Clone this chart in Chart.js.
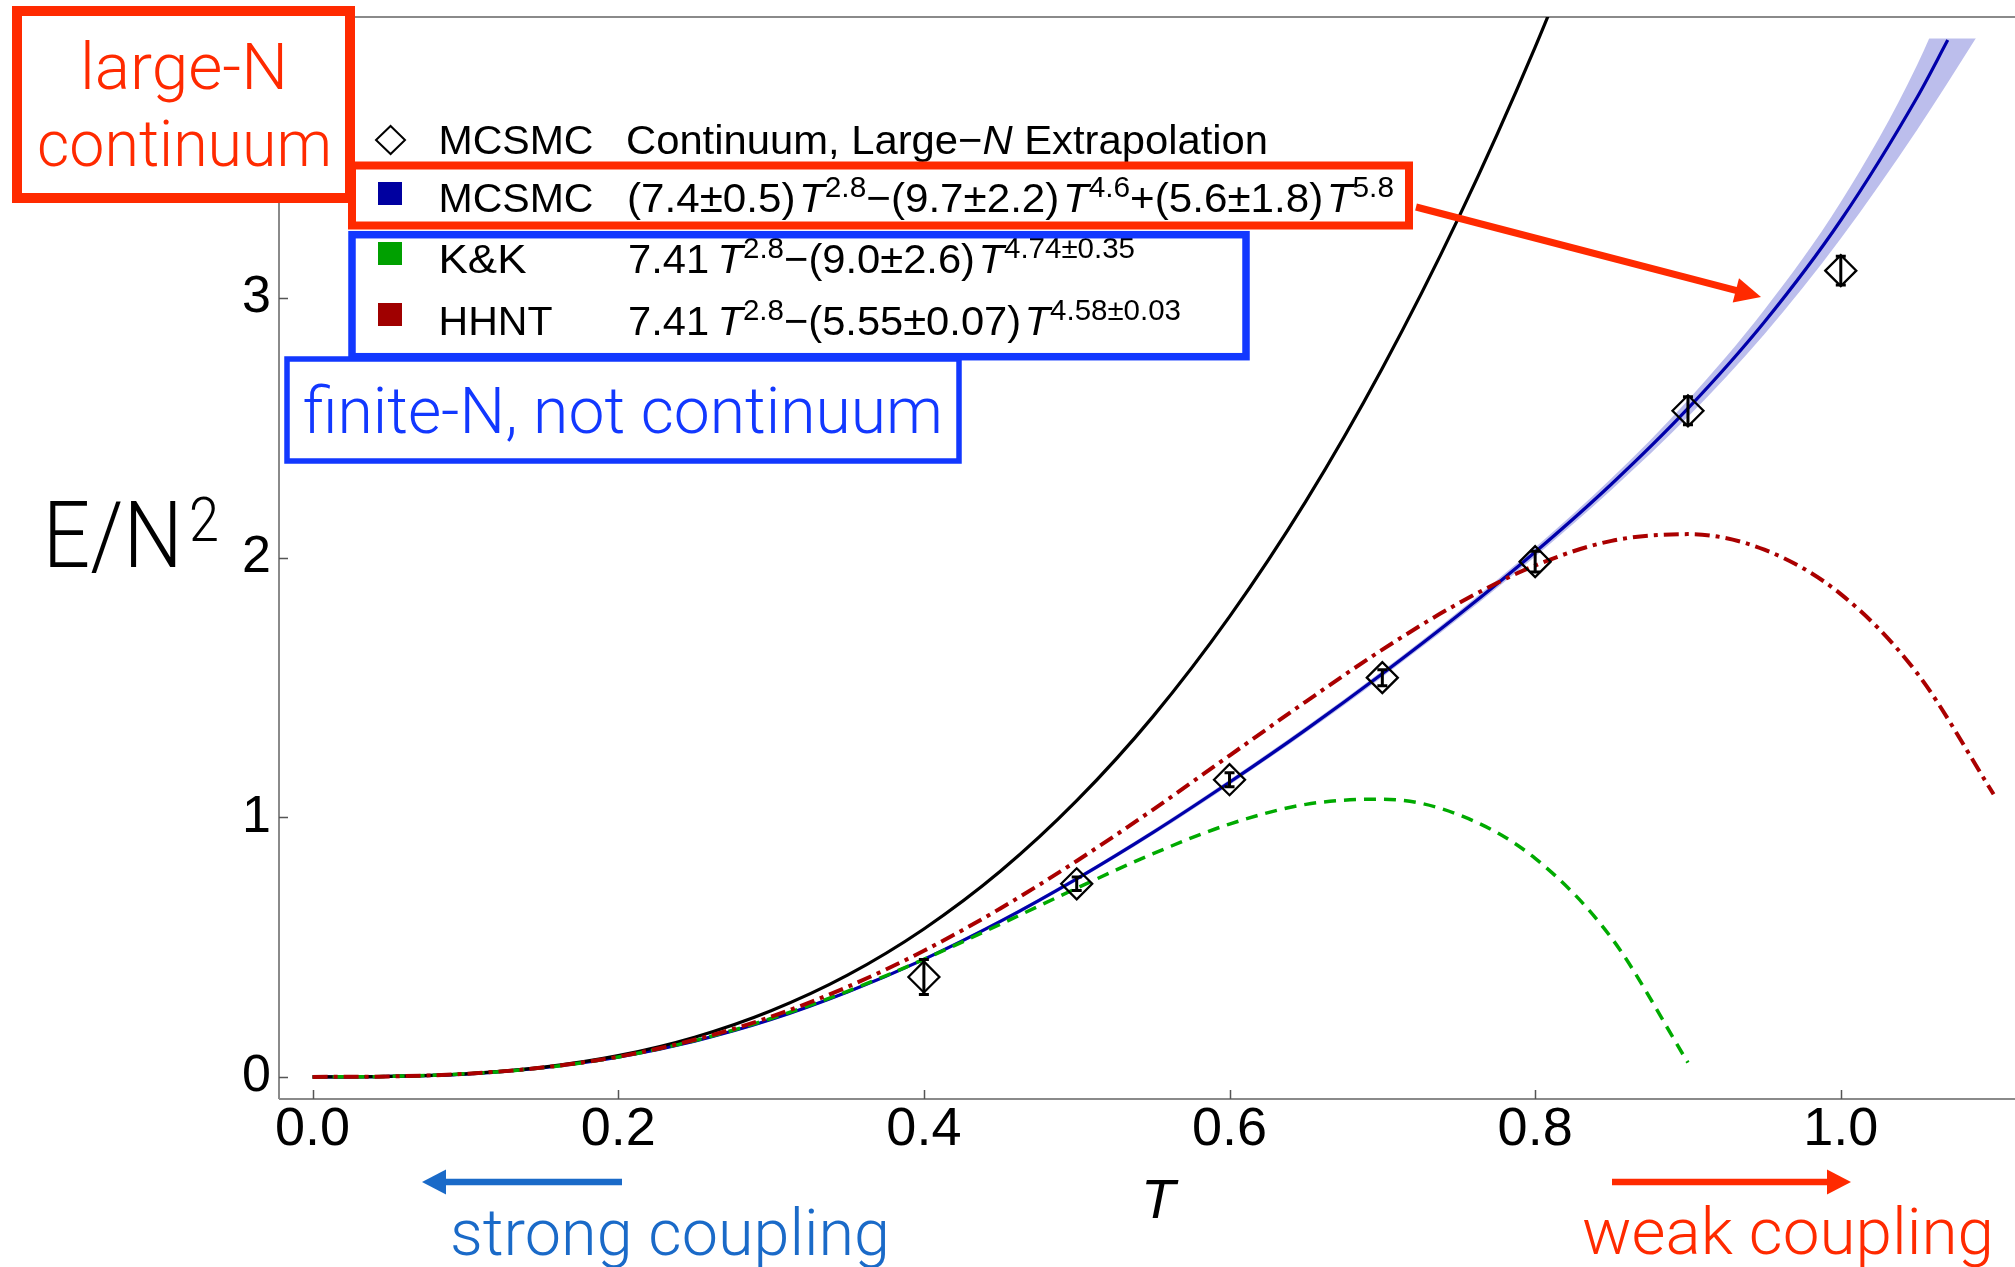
<!DOCTYPE html>
<html>
<head>
<meta charset="utf-8">
<title>E/N^2 vs T</title>
<script src="https://cdn.jsdelivr.net/npm/chart.js@4.4.1/dist/chart.umd.min.js"></script>
<style>
  html, body { margin: 0; padding: 0; background: #fff; }
  canvas { display: block; }
</style>
</head>
<body>
<canvas id="chart" width="2015" height="1267"></canvas>
<script>
const tGrid = [0, 0.05, 0.1, 0.15, 0.2, 0.25, 0.3, 0.35, 0.4, 0.45, 0.5, 0.55, 0.6, 0.65, 0.7, 0.75, 0.8, 0.85, 0.9, 0.95, 1.0, 1.05, 1.1];
const tFit = [0, 0.05, 0.1, 0.15, 0.2, 0.25, 0.3, 0.35, 0.4, 0.45, 0.5, 0.55, 0.6, 0.65, 0.7, 0.75, 0.8, 0.85, 0.9, 0.95, 1.0, 1.05, 1.07];

// black solid curve (runs off the top)
const blackCurve = [0, 0.002, 0.012, 0.037, 0.082, 0.153, 0.255, 0.392, 0.570, 0.792, 1.064, 1.389, 1.773, 2.218, 2.730, 3.311, 3.967, 4.701];
// MCSMC fit (blue) and its error band
const fitCurve = [0, 0.002, 0.011, 0.035, 0.076, 0.138, 0.221, 0.327, 0.453, 0.599, 0.763, 0.942, 1.135, 1.338, 1.553, 1.780, 2.022, 2.284, 2.575, 2.908, 3.300, 3.774, 3.994];
const bandUpper = [0, 0.003, 0.013, 0.038, 0.080, 0.143, 0.226, 0.333, 0.459, 0.606, 0.771, 0.951, 1.145, 1.349, 1.565, 1.794, 2.039, 2.306, 2.607, 2.955, 3.370, 3.899, 4.609];
const bandLower = [0, 0.001, 0.009, 0.032, 0.072, 0.133, 0.216, 0.321, 0.447, 0.592, 0.755, 0.933, 1.125, 1.327, 1.541, 1.766, 2.005, 2.262, 2.543, 2.861, 3.230, 3.649, 4.109];
// K&K (green dashed)
const kkCurve = [0, 0.002, 0.012, 0.035, 0.077, 0.140, 0.225, 0.330, 0.453, 0.588, 0.727, 0.860, 0.974, 1.050, 1.070, 1.010, 0.842, 0.535, 0.055];
// HHNT (red dot-dashed)
const hhntCurve = [0, 0.002, 0.012, 0.036, 0.078, 0.143, 0.232, 0.347, 0.486, 0.649, 0.832, 1.030, 1.238, 1.446, 1.646, 1.825, 1.970, 2.065, 2.091, 2.031, 1.860, 1.555, 1.089];

// MCSMC continuum points with error bars
const mcT = [0.4, 0.5, 0.6, 0.7, 0.8, 0.9, 1.0];
const mcE = [0.385, 0.744, 1.145, 1.538, 1.985, 2.566, 3.106];
const mcErr = [0.067, 0.026, 0.027, 0.031, 0.040, 0.054, 0.055];

const xTicks = [0, 0.2, 0.4, 0.6, 0.8, 1.0];
const yTicks = [0, 1, 2, 3];

const SANS = '"Liberation Sans", Arial, Helvetica, sans-serif';
const LIGHT = 'Roboto, "Liberation Sans", sans-serif';
const RED = '#ff2a00';
const BOXBLUE = '#1238ff';
const ARROWBLUE = '#1a6ac8';

function pts(xs, ys) {
    return ys.map((y, i) => ({ x: xs[i], y: y }));
}

// horizontally squeeze/stretch a text so it spans a given width
function fitText(ctx, text, x, y, width, font, color) {
    ctx.save();
    ctx.font = font;
    ctx.fillStyle = color;
    ctx.textBaseline = 'alphabetic';
    ctx.textAlign = 'left';
    const w = ctx.measureText(text).width;
    ctx.translate(x, y);
    ctx.scale(width / w, 1);
    ctx.fillText(text, 0, 0);
    ctx.restore();
}

// text made of pieces (normal / italic / superscript)
function n(t) { return { t: t, font: '41px ' + SANS, rise: 0 }; }
function it(t) { return { t: t, font: 'italic 41px ' + SANS, rise: 0 }; }
function sup(t) { return { t: t, font: '29px ' + SANS, rise: 15 }; }

function drawRich(ctx, segs, x, y, width) {
    ctx.save();
    ctx.fillStyle = '#000';
    ctx.textBaseline = 'alphabetic';
    ctx.textAlign = 'left';
    let total = 0;
    segs.forEach(s => { ctx.font = s.font; total += ctx.measureText(s.t).width; });
    ctx.translate(x, y);
    ctx.scale(width / total, 1);
    let cx = 0;
    segs.forEach(s => {
        ctx.font = s.font;
        ctx.fillText(s.t, cx, -s.rise);
        cx += ctx.measureText(s.t).width;
    });
    ctx.restore();
}

function arrow(ctx, x1, y1, x2, y2, color, lw, headLen, headHalf) {
    const a = Math.atan2(y2 - y1, x2 - x1);
    const bx = x2 - headLen * Math.cos(a);
    const by = y2 - headLen * Math.sin(a);
    ctx.save();
    ctx.strokeStyle = color;
    ctx.fillStyle = color;
    ctx.lineWidth = lw;
    ctx.beginPath();
    ctx.moveTo(x1, y1);
    ctx.lineTo(bx + Math.cos(a), by + Math.sin(a));
    ctx.stroke();
    ctx.beginPath();
    ctx.moveTo(x2, y2);
    ctx.lineTo(bx - headHalf * Math.sin(a), by + headHalf * Math.cos(a));
    ctx.lineTo(bx + headHalf * Math.sin(a), by - headHalf * Math.cos(a));
    ctx.closePath();
    ctx.fill();
    ctx.restore();
}

const BAND_INDEX = 0;

const decor = {
    id: 'decor',
    beforeDatasetsDraw(chart) {
        const ctx = chart.ctx;
        const a = chart.chartArea;
        const xs = chart.scales.x, ys = chart.scales.y;
        // frame
        ctx.save();
        ctx.strokeStyle = '#8a8a8a';
        ctx.lineWidth = 2;
        ctx.beginPath();
        ctx.moveTo(a.left, a.top); ctx.lineTo(a.right, a.top);
        ctx.moveTo(a.left, a.top); ctx.lineTo(a.left, a.bottom);
        ctx.moveTo(a.left, a.bottom); ctx.lineTo(a.right, a.bottom);
        ctx.stroke();
        // inward ticks
        ctx.strokeStyle = '#555';
        ctx.lineWidth = 1.5;
        ctx.beginPath();
        xTicks.forEach(v => {
            const px = Math.round(xs.getPixelForValue(v)) + 0.5;
            ctx.moveTo(px, a.bottom); ctx.lineTo(px, a.bottom - 9);
        });
        yTicks.forEach(v => {
            const py = Math.round(ys.getPixelForValue(v)) + 0.5;
            ctx.moveTo(a.left, py); ctx.lineTo(a.left + 9, py);
        });
        ctx.stroke();
        ctx.restore();
        // the error band stops at E/N^2 = 4
        ctx.save();
        ctx.beginPath();
        const cut = ys.getPixelForValue(4);
        ctx.rect(a.left, cut, a.right - a.left, a.bottom - cut);
        ctx.clip();
    },
    afterDatasetDraw(chart, args) {
        if (args.index === BAND_INDEX) chart.ctx.restore();
    },
    afterDatasetsDraw(chart) {
        const ctx = chart.ctx;
        const xs = chart.scales.x, ys = chart.scales.y;
        ctx.save();
        ctx.strokeStyle = '#000';
        ctx.lineWidth = 3;
        mcT.forEach((t, i) => {
            const px = xs.getPixelForValue(t);
            const top = ys.getPixelForValue(mcE[i] + mcErr[i]);
            const bot = ys.getPixelForValue(mcE[i] - mcErr[i]);
            ctx.beginPath();
            ctx.moveTo(px, top); ctx.lineTo(px, bot);
            ctx.moveTo(px - 5, top); ctx.lineTo(px + 5, top);
            ctx.moveTo(px - 5, bot); ctx.lineTo(px + 5, bot);
            ctx.stroke();
        });
        ctx.restore();
    },
    afterDraw(chart) {
        const ctx = chart.ctx;
        ctx.save();

        // legend rows
        ctx.strokeStyle = '#000';
        ctx.lineWidth = 2;
        ctx.beginPath();
        ctx.moveTo(390.6, 126); ctx.lineTo(405, 140); ctx.lineTo(390.6, 154); ctx.lineTo(376, 140); ctx.closePath();
        ctx.stroke();
        ctx.fillStyle = '#0000a0'; ctx.fillRect(378, 182, 24, 23);
        ctx.fillStyle = '#00a000'; ctx.fillRect(378, 242, 24, 23);
        ctx.fillStyle = '#a00000'; ctx.fillRect(378, 303, 24, 23);

        drawRich(ctx, [n('MCSMC')], 438.5, 153.5, 155);
        drawRich(ctx, [n('MCSMC')], 438.5, 211.7, 155);
        drawRich(ctx, [n('K&K')], 438.5, 273.3, 88);
        drawRich(ctx, [n('HHNT')], 438.5, 335, 114);

        drawRich(ctx, [n('Continuum, Large\u2212'), it('N'), n(' Extrapolation')], 626, 153.5, 642);
        drawRich(ctx, [n('(7.4\u00b10.5)\u200a'), it('T'), sup('2.8'), n('\u2212(9.7\u00b12.2)\u200a'), it('T'), sup('4.6'),
            n('+(5.6\u00b11.8)\u200a'), it('T'), sup('5.8')], 627, 211.7, 767);
        drawRich(ctx, [n('7.41\u2009'), it('T'), sup('2.8'), n('\u2212(9.0\u00b12.6)\u200a'), it('T'), sup('4.74\u00b10.35')], 628, 273.3, 507);
        drawRich(ctx, [n('7.41\u2009'), it('T'), sup('2.8'), n('\u2212(5.55\u00b10.07)\u200a'), it('T'), sup('4.58\u00b10.03')], 628, 335, 553);

        // boxes around legend rows
        ctx.strokeStyle = RED;
        ctx.lineWidth = 8;
        ctx.strokeRect(352, 165.5, 1409 - 352, 225.5 - 165.5);
        ctx.strokeStyle = BOXBLUE;
        ctx.lineWidth = 7.5;
        ctx.strokeRect(352, 234.7, 1246 - 352, 356.7 - 234.7);

        // "large-N continuum" box
        ctx.fillStyle = '#fff';
        ctx.fillRect(17, 11, 333, 187);
        ctx.strokeStyle = RED;
        ctx.lineWidth = 10;
        ctx.strokeRect(17, 11, 333, 187);
        fitText(ctx, 'large-N', 80, 89, 208, '300 64px ' + LIGHT, RED);
        fitText(ctx, 'continuum', 37, 166, 295, '300 64px ' + LIGHT, RED);

        // "finite-N, not continuum" box
        ctx.fillStyle = '#fff';
        ctx.fillRect(287, 359, 672, 102);
        ctx.strokeStyle = BOXBLUE;
        ctx.lineWidth = 5.5;
        ctx.strokeRect(287, 359, 672, 102);
        fitText(ctx, 'finite-N, not continuum', 303, 433, 640, '300 64px ' + LIGHT, BOXBLUE);

        // arrow from the fit formula to the blue curve
        arrow(ctx, 1416, 207, 1761, 297, RED, 7, 26, 12.5);

        // axis titles
        fitText(ctx, 'E/N', 42.7, 566.7, 140, '300 92px ' + LIGHT, '#000');
        fitText(ctx, '2', 189, 541, 30, '300 62px ' + LIGHT, '#000');
        ctx.font = 'italic 56px ' + SANS;
        ctx.fillStyle = '#000';
        ctx.textAlign = 'center';
        ctx.textBaseline = 'alphabetic';
        ctx.fillText('T', 1158, 1218);

        // coupling arrows
        arrow(ctx, 622, 1182, 422, 1182, ARROWBLUE, 6.5, 24, 12.5);
        fitText(ctx, 'strong coupling', 450, 1255, 440, '300 64px ' + LIGHT, ARROWBLUE);
        arrow(ctx, 1612, 1182, 1851, 1182, RED, 6.5, 24, 12.5);
        fitText(ctx, 'weak coupling', 1582, 1254, 412, '300 64px ' + LIGHT, RED);

        ctx.restore();
    }
};

const ctx = document.getElementById('chart').getContext('2d');
new Chart(ctx, {
    type: 'line',
    data: {
        datasets: [
            {   // band upper edge, filled down to the lower edge
                data: pts(tGrid, bandUpper), fill: '+1', backgroundColor: 'rgba(95, 100, 210, 0.42)',
                borderWidth: 0, pointRadius: 0, cubicInterpolationMode: 'monotone', order: 10
            },
            {
                data: pts(tGrid, bandLower), fill: false, borderWidth: 0, pointRadius: 0,
                cubicInterpolationMode: 'monotone', order: 9
            },
            {
                label: 'MCSMC fit', data: pts(tFit, fitCurve), borderColor: '#0000aa', borderWidth: 3.2,
                pointRadius: 0, fill: false, cubicInterpolationMode: 'monotone', order: 5
            },
            {
                label: 'black', data: pts(tGrid, blackCurve), borderColor: '#000', borderWidth: 3.2,
                pointRadius: 0, fill: false, cubicInterpolationMode: 'monotone', order: 4
            },
            {
                label: 'K&K', data: pts(tGrid, kkCurve), borderColor: '#00aa00', borderWidth: 3.5,
                borderDash: [12, 8], pointRadius: 0, fill: false, cubicInterpolationMode: 'monotone', order: 3
            },
            {
                label: 'HHNT', data: pts(tGrid, hhntCurve), borderColor: '#aa0000', borderWidth: 4,
                borderDash: [15, 6, 4, 6], pointRadius: 0, fill: false, cubicInterpolationMode: 'monotone', order: 2
            },
            {
                label: 'MCSMC', data: pts(mcT, mcE), showLine: false, pointStyle: 'rectRot', pointRadius: 15.5,
                pointBorderWidth: 2.3, pointBorderColor: '#000', pointBackgroundColor: 'rgba(0,0,0,0)', order: 1
            }
        ]
    },
    options: {
        responsive: false,
        animation: false,
        devicePixelRatio: 1,
        layout: { autoPadding: false, padding: { top: 17, left: 0, right: 0, bottom: 0 } },
        plugins: { legend: { display: false }, tooltip: { enabled: false } },
        scales: {
            x: {
                type: 'linear', min: -0.022, max: 1.114,
                grid: { display: false, drawTicks: false }, border: { display: false },
                afterBuildTicks: s => { s.ticks = xTicks.map(v => ({ value: v })); },
                afterFit: s => { s.height = 168; s.paddingLeft = 0; s.paddingRight = 0; },
                ticks: {
                    color: '#000', padding: 4, maxRotation: 0, autoSkip: false,
                    font: { family: SANS, size: 54, lineHeight: 1 },
                    callback: v => Number(v).toFixed(1)
                }
            },
            y: {
                type: 'linear', min: -0.085, max: 4.083,
                grid: { display: false, drawTicks: false }, border: { display: false },
                afterBuildTicks: s => { s.ticks = yTicks.map(v => ({ value: v })); },
                afterFit: s => { s.width = 279; s.paddingTop = 0; s.paddingBottom = 0; },
                ticks: {
                    color: '#000', padding: 8,
                    font: { family: SANS, size: 52, lineHeight: 1 },
                    callback: v => String(v)
                }
            }
        }
    },
    plugins: [decor]
});
</script>
</body>
</html>
